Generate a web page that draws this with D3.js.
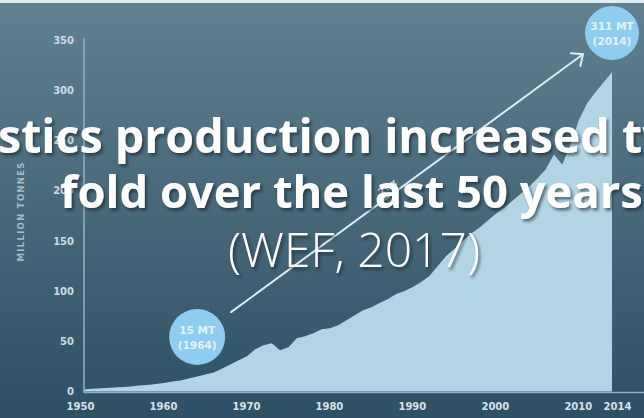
<!DOCTYPE html>
<html>
<head>
<meta charset="utf-8">
<script src="https://d3js.org/d3.v7.min.js"></script>
<style>
  body { margin: 0; background: #2f5266; }
  svg { display: block; }
</style>
</head>
<body>
<div id="chart"></div>
<script>
/*------------------------------
 DATA
 ----------------------------*/
const years = [1950,1951,1952,1953,1954,1955,1956,1957,1958,1959,
               1960,1961,1962,1963,1964,1965,1966,1967,1968,1969,
               1970,1971,1972,1973,1974,1975,1976,1977,1978,1979,
               1980,1981,1982,1983,1984,1985,1986,1987,1988,1989,
               1990,1991,1992,1993,1994,1995,1996,1997,1998,1999,
               2000,2001,2002,2003,2004,2005,2006,2007,2008,2009,
               2010,2011,2012,2013,2014];
const tonnes = [2,2.5,3,3.5,4,4.5,5,6,6.5,7.5,
                8.5,10,11,13,15,17,19,23,27,31,
                35,42,46,48,41,44,53,55,58,62,
                63,66,71,76,81,84,88,92,97,100,
                104,109,115,125,135,142,150,157,163,170,
                177,183,190,197,204,212,221,236,226,246,
                270,287,298,308,318];
const xTicks = [1950,1960,1970,1980,1990,2000,2010,2014];
const yTicks = [0,50,100,150,200,250,300,350];
const callouts = [{year:1964, top:"15 MT", bottom:"(1964)"},
                  {year:2014, top:"311 MT", bottom:"(2014)"}];
const growthLabel = "20x";
const yAxisTitle = "MILLION TONNES";
const titleLines = ["Plastics production increased twenty-",
                    "fold over the last 50 years",
                    "(WEF, 2017)"];

/*------------------------------
 LAYOUT
 ----------------------------*/
const SVG_WIDTH = 644;
const SVG_HEIGHT = 418;
const PLOT = {left: 84, right: 644, top: 38, bottom: 392};
const BUBBLE_CY = [337, 33];
const BUBBLE_R = [28, 27];

const svg = d3.select("#chart").append("svg")
    .attr("width", SVG_WIDTH)
    .attr("height", SVG_HEIGHT);

const defs = svg.append("defs");
const grad = defs.append("linearGradient")
    .attr("id", "bg").attr("x1", 0).attr("y1", 0).attr("x2", 0).attr("y2", 1);
grad.append("stop").attr("offset", "0%").attr("stop-color", "#61818f");
grad.append("stop").attr("offset", "100%").attr("stop-color", "#2d5064");

const shadow = defs.append("filter").attr("id", "shadow")
    .attr("x", "-10%").attr("y", "-20%").attr("width", "120%").attr("height", "150%");
shadow.append("feDropShadow")
    .attr("dx", 2).attr("dy", 2.5).attr("stdDeviation", 1.5)
    .attr("flood-color", "#0c1e28").attr("flood-opacity", 0.6);

svg.append("rect").attr("width", SVG_WIDTH).attr("height", SVG_HEIGHT).attr("fill", "url(#bg)");
svg.append("rect").attr("width", SVG_WIDTH).attr("height", 3).attr("fill", "#e3ecf1");

// scales
const x = d3.scaleLinear().domain([1950, 2014]).range([81, 612]);
const y = d3.scaleLinear().domain([0, 350]).range([391.5, 40]);

const series = years.map((yr, i) => ({year: yr, value: tonnes[i]}));

// area
const area = d3.area()
    .x(d => Math.max(x(d.year), PLOT.left))
    .y0(y(0))
    .y1(d => y(d.value))
    .curve(d3.curveLinear);

svg.append("path")
    .datum(series)
    .attr("d", area)
    .attr("fill", "#b2d5e5");

// axes
const yAxis = svg.append("g")
    .attr("transform", `translate(74, 0)`)
    .call(d3.axisLeft(y).tickValues(yTicks).tickSize(0).tickPadding(0));
yAxis.select(".domain").remove();
yAxis.selectAll("text")
    .attr("font-family", "DejaVu Sans")
    .attr("font-weight", "bold")
    .attr("font-size", 10)
    .attr("fill", "#ccdbe3");

svg.append("line")
    .attr("x1", PLOT.left).attr("x2", PLOT.left)
    .attr("y1", PLOT.top).attr("y2", PLOT.bottom + 1)
    .attr("stroke", "#97b0be").attr("stroke-width", 1.5);

const xAxis = svg.append("g")
    .attr("transform", `translate(0, 403)`)
    .call(d3.axisBottom(x).tickValues(xTicks).tickFormat(d3.format("d")).tickSize(0).tickPadding(0));
xAxis.select(".domain").remove();
xAxis.selectAll("text")
    .attr("font-family", "DejaVu Sans")
    .attr("font-weight", "bold")
    .attr("font-size", 10)
    .attr("fill", "#d6e2e9")
    .attr("dx", d => d === 2014 ? 5 : -1);

svg.append("line")
    .attr("x1", PLOT.left).attr("x2", PLOT.right)
    .attr("y1", PLOT.bottom + 0.5).attr("y2", PLOT.bottom + 0.5)
    .attr("stroke", "#8eacbb").attr("stroke-width", 1.5);

svg.append("text")
    .attr("transform", `translate(24, 212) rotate(-90)`)
    .attr("text-anchor", "middle")
    .attr("font-family", "DejaVu Sans")
    .attr("font-weight", "bold")
    .attr("font-size", 8.5)
    .attr("textLength", 99)
    .attr("lengthAdjust", "spacing")
    .attr("fill", "#a5bbc7")
    .text(yAxisTitle);

// arrow between callouts
const c0 = {x: x(callouts[0].year), y: BUBBLE_CY[0]};
const c1 = {x: x(callouts[1].year), y: BUBBLE_CY[1]};
const dx = c1.x - c0.x, dy = c1.y - c0.y;
const len = Math.hypot(dx, dy);
const ux = dx / len, uy = dy / len;
const p0 = {x: c0.x + ux * 42, y: c0.y + uy * 42};
const p1 = {x: c1.x - ux * 36, y: c1.y - uy * 36};
const ang = Math.atan2(dy, dx);

const arrow = svg.append("g")
    .attr("stroke", "#dcecf4").attr("stroke-width", 2)
    .attr("stroke-linecap", "round").attr("fill", "none");
arrow.append("line")
    .attr("x1", p0.x).attr("y1", p0.y).attr("x2", p1.x).attr("y2", p1.y);
const head = 12, spread = 0.72;
arrow.append("path")
    .attr("d", d3.line()([
        [p1.x - head * Math.cos(ang - spread), p1.y - head * Math.sin(ang - spread)],
        [p1.x, p1.y],
        [p1.x - head * Math.cos(ang + spread), p1.y - head * Math.sin(ang + spread)]
    ]))
    .attr("stroke-linejoin", "round");

const mid = {x: p0.x + ux * 200, y: p0.y + uy * 200};
svg.append("text")
    .attr("transform", `translate(${mid.x}, ${mid.y}) rotate(${ang * 180 / Math.PI})`)
    .attr("y", -5)
    .attr("text-anchor", "middle")
    .attr("font-family", "DejaVu Sans")
    .attr("font-weight", "bold")
    .attr("font-size", 10)
    .attr("fill", "#d3e3ec")
    .text(growthLabel);

// bubbles
const bubbles = svg.selectAll("g.bubble")
    .data(callouts)
    .enter()
    .append("g")
    .attr("class", "bubble")
    .attr("transform", (d, i) => `translate(${x(d.year)}, ${BUBBLE_CY[i]})`);
bubbles.append("circle")
    .attr("r", (d, i) => BUBBLE_R[i])
    .attr("fill", "#8fcdf0");
bubbles.append("text")
    .attr("y", -3)
    .attr("text-anchor", "middle")
    .attr("font-family", "DejaVu Sans")
    .attr("font-weight", "bold")
    .attr("font-size", 10.5)
    .attr("fill", "#e3f2fa")
    .text(d => d.top);
bubbles.append("text")
    .attr("y", 12)
    .attr("text-anchor", "middle")
    .attr("font-family", "DejaVu Sans")
    .attr("font-weight", "bold")
    .attr("font-size", 10.5)
    .attr("fill", "#e3f2fa")
    .text(d => d.bottom);

// title overlay
function fitText(el, target, start, count) {
    el.attr("font-size", 100);
    const node = el.node();
    const w = count ? node.getSubStringLength(start, count) : node.getComputedTextLength();
    el.attr("font-size", 100 * target / w);
}

const title = svg.append("g")
    .attr("fill", "#ffffff")
    .attr("filter", "url(#shadow)");

const t1 = title.append("text")
    .attr("font-family", "Open Sans")
    .attr("font-weight", "bold")
    .attr("y", 153)
    .text(titleLines[0]);
fitText(t1, 612, 3, 26);
t1.attr("x", -2 - t1.node().getSubStringLength(0, 3));

const t2 = title.append("text")
    .attr("font-family", "Open Sans")
    .attr("font-weight", "bold")
    .attr("x", 60)
    .attr("y", 208)
    .text(titleLines[1]);
fitText(t2, 583);

const t3 = title.append("text")
    .attr("font-family", "Open Sans")
    .attr("font-weight", 300)
    .attr("x", 228)
    .attr("y", 267)
    .text(titleLines[2]);
fitText(t3, 252);
</script>
</body>
</html>
